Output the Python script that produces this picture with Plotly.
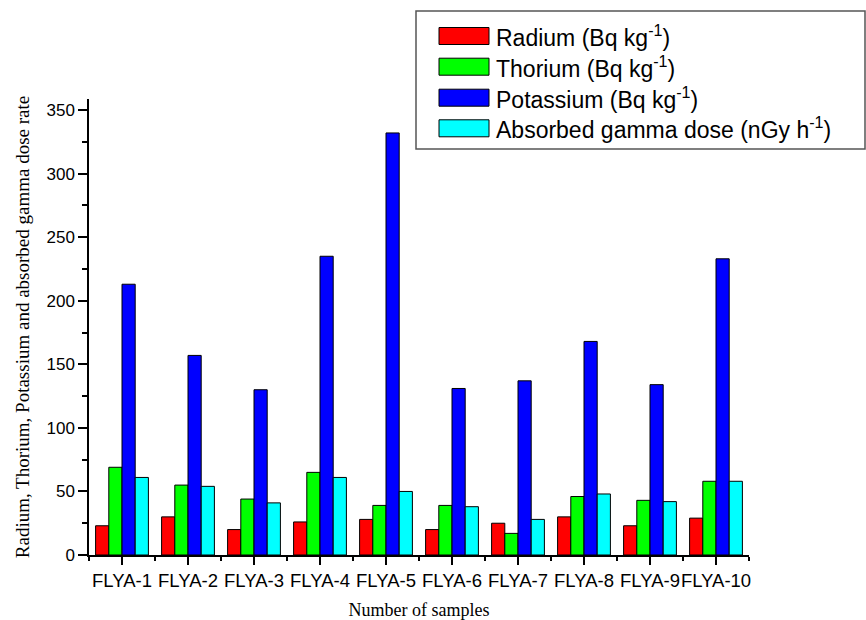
import plotly.graph_objects as go

# ---- data ----
samples = ["FLYA-1", "FLYA-2", "FLYA-3", "FLYA-4", "FLYA-5",
           "FLYA-6", "FLYA-7", "FLYA-8", "FLYA-9", "FLYA-10"]
radium = [23, 30, 20, 26, 28, 20, 25, 30, 23, 29]
thorium = [69, 55, 44, 65, 39, 39, 17, 46, 43, 58]
potassium = [213, 157, 130, 235, 332, 131, 137, 168, 134, 233]
gamma_dose = [61, 54, 41, 61, 50, 38, 28, 48, 42, 58]

series_names = ["Radium (Bq kg<sup>-1</sup>)",
                "Thorium (Bq kg<sup>-1</sup>)",
                "Potassium (Bq kg<sup>-1</sup>)",
                "Absorbed gamma dose (nGy h<sup>-1</sup>)"]
series_values = [radium, thorium, potassium, gamma_dose]
series_colors = ["#FF0000", "#00FF00", "#0000FF", "#00FFFF"]

y_ticks = [0, 50, 100, 150, 200, 250, 300, 350]

# ---- layout geometry (pixels) ----
W, H = 866, 620
L, R, T, B = 89, 749, 99, 555  # plot area in pixels

def px_x(px):
    return (px - L) / (R - L)

def px_y(py):
    return (B - py) / (B - T)

x_idx = list(range(len(samples)))

fig = go.Figure()
for name, vals, col in zip(series_names, series_values, series_colors):
    fig.add_trace(go.Bar(
        x=x_idx, y=vals, name=name,
        marker=dict(color=col, line=dict(color="black", width=1)),
        showlegend=False,
    ))

# custom legend (large swatches like the original)
shapes = [dict(type="rect", xref="paper", yref="paper",
               x0=px_x(416), x1=px_x(865), y0=px_y(149), y1=px_y(11),
               line=dict(color="#555555", width=1.5), fillcolor="white",
               layer="below")]
annotations = []
row_centers = [36, 66.7, 97.7, 128.3]
for rc, name, col in zip(row_centers, series_names, series_colors):
    shapes.append(dict(type="rect", xref="paper", yref="paper",
                       x0=px_x(439), x1=px_x(489),
                       y0=px_y(rc + 8.5), y1=px_y(rc - 8.5),
                       line=dict(color="black", width=1), fillcolor=col))
    annotations.append(dict(xref="paper", yref="paper",
                            x=px_x(494), y=px_y(rc), text=name,
                            showarrow=False, xanchor="left", yanchor="middle",
                            font=dict(family="Liberation Sans, Arial", size=23,
                                      color="black")))

fig.update_layout(
    width=W, height=H,
    margin=dict(l=L, r=W - R, t=T, b=H - B, autoexpand=False),
    paper_bgcolor="white", plot_bgcolor="white",
    barmode="group", bargap=0.2, bargroupgap=0,
    shapes=shapes, annotations=annotations,
    showlegend=False,
    font=dict(family="Liberation Sans, Arial", color="black"),
)

fig.update_xaxes(
    range=[-0.5, len(samples) - 0.5],
    tickmode="array", tickvals=x_idx, ticktext=samples, tickangle=0,
    tickfont=dict(family="Liberation Sans, Arial", size=18.5, color="black"),
    showline=True, linecolor="black", linewidth=1.5,
    ticks="outside", ticklen=8, tickwidth=1.5, tickcolor="black",
    minor=dict(tickmode="linear", tick0=0.5, dtick=1, ticks="outside",
               ticklen=4, tickwidth=1.5, tickcolor="black", showgrid=False),
    showgrid=False, zeroline=False,
    title=dict(text="Number of samples", standoff=20,
               font=dict(family="Liberation Serif, Times New Roman", size=18,
                         color="black")),
)

fig.update_yaxes(
    range=[0, 358.7],
    tickmode="array", tickvals=y_ticks,
    tickfont=dict(family="Liberation Sans, Arial", size=17, color="black"),
    showline=True, linecolor="black", linewidth=1.5,
    ticks="outside", ticklen=9, tickwidth=1.5, tickcolor="black",
    minor=dict(tickmode="linear", tick0=25, dtick=50, ticks="outside",
               ticklen=5, tickwidth=1.5, tickcolor="black", showgrid=False),
    showgrid=False, zeroline=False,
    title=dict(text="Radium, Thorium, Potassium and absorbed gamma dose rate",
               standoff=12,
               font=dict(family="Liberation Serif, Times New Roman", size=19,
                         color="black")),
)

fig.write_html("out.html")
